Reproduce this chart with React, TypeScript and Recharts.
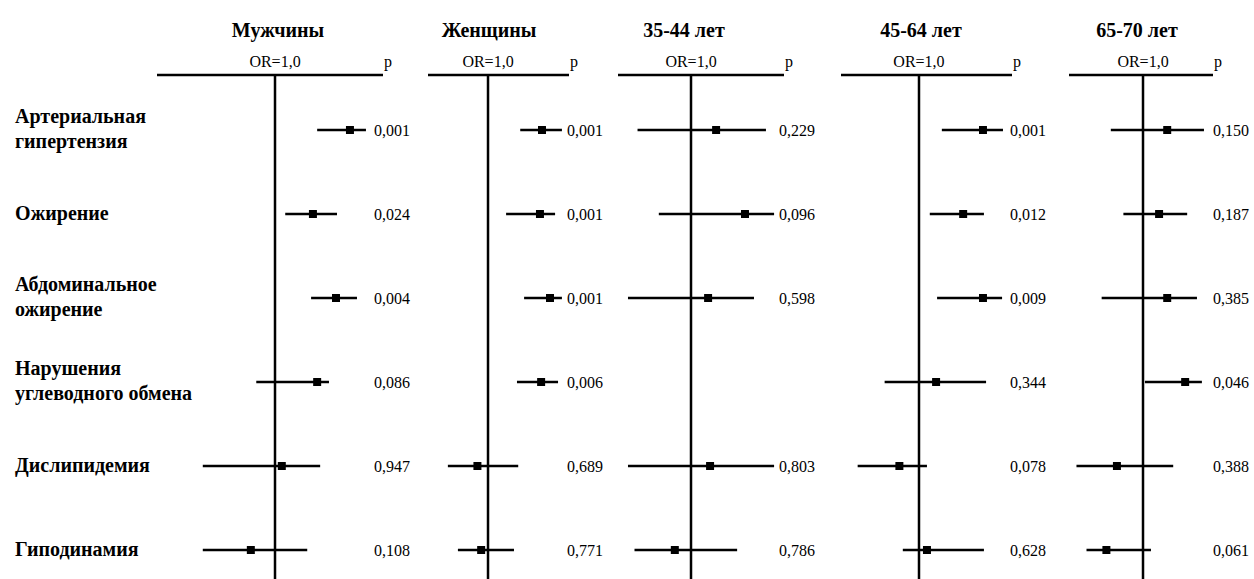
import React from 'react';
import { ScatterChart, Scatter, XAxis, YAxis, ZAxis, ErrorBar, ReferenceLine } from 'recharts';

// Risk factors (rows), top to bottom
const ROW_LABELS = [
  ['Артериальная', 'гипертензия'],
  ['Ожирение'],
  ['Абдоминальное', 'ожирение'],
  ['Нарушения', 'углеводного обмена'],
  ['Дислипидемия'],
  ['Гиподинамия'],
];

const GROUPS = ['Мужчины', 'Женщины', '35-44 лет', '45-64 лет', '65-70 лет'];

// odds ratios with 95% CI (log scale)
const menOR = [3.16, 1.79, 2.55, 1.91, 1.11, 0.69];
const menLow = [1.91, 1.17, 1.74, 0.75, 0.33, 0.33];
const menHigh = [4.04, 2.59, 3.52, 2.29, 2.0, 1.64];
const menP = ['0,001', '0,024', '0,004', '0,086', '0,947', '0,108'];

const womenOR = [2.29, 2.22, 2.59, 2.26, 0.85, 0.9];
const womenLow = [1.64, 1.32, 1.74, 1.56, 0.54, 0.63];
const womenHigh = [3.11, 2.8, 3.11, 2.93, 1.59, 1.49];
const womenP = ['0,001', '0,001', '0,001', '0,006', '0,689', '0,771'];

const age35OR = [1.47, 2.29, 1.3, null, 1.34, 0.78];
const age35Low = [0.44, 0.61, 0.38, null, 0.38, 0.42];
const age35High = [3.16, 3.58, 2.63, null, 3.58, 2.03];
const age35P = ['0,229', '0,096', '0,598', '', '0,803', '0,786'];

const age45OR = [2.67, 1.97, 2.67, 1.3, 0.74, 1.13];
const age45Low = [1.42, 1.18, 1.32, 0.59, 0.39, 0.78];
const age45High = [3.63, 2.71, 3.58, 2.8, 1.13, 2.71];
const age45P = ['0,001', '0,012', '0,009', '0,344', '0,078', '0,628'];

const age65OR = [1.45, 1.28, 1.45, 1.91, 0.67, 0.57];
const age65Low = [0.61, 0.74, 0.53, 1.03, 0.36, 0.42];
const age65High = [2.55, 1.97, 2.29, 2.47, 1.59, 1.13];
const age65P = ['0,150', '0,187', '0,385', '0,046', '0,388', '0,061'];

const SERIES = [
  { or: menOR, low: menLow, high: menHigh, p: menP },
  { or: womenOR, low: womenLow, high: womenHigh, p: womenP },
  { or: age35OR, low: age35Low, high: age35High, p: age35P },
  { or: age45OR, low: age45Low, high: age45High, p: age45P },
  { or: age65OR, low: age65Low, high: age65High, p: age65P },
];

// layout of each panel on the page
const PANELS = [
  { left: 157, right: 383, domain: [0.1634, 5.248], titleX: 278, pShift: -9 },
  { left: 428, right: 569, domain: [0.398, 3.467], titleX: 489, pShift: -2 },
  { left: 618, right: 784, domain: [0.326, 4.169], titleX: 684, pShift: -5 },
  { left: 841, right: 1012, domain: [0.302, 4.169], titleX: 921, pShift: -2 },
  { left: 1069, right: 1213, domain: [0.321, 2.929], titleX: 1137, pShift: 0 },
];

const FONT = "'Liberation Serif', 'Times New Roman', serif";
const HEIGHT = 579;
const TOP = 47;
const AXIS_H = 28;
const P_WIDTH = 40;
const LABEL_W = 157;
const ROW_TICKS = ROW_LABELS.map((_, i) => i);
const ROW_DOMAIN = [-0.655, 5.345];

function RowLabelTick(props: any) {
  const { y, payload } = props;
  const lines = ROW_LABELS[payload.value] || [];
  const first = lines.length > 1 ? y - 7 : y + 6;
  return (
    <text fontSize={20} fontWeight="bold" fill="#000" fontFamily={FONT}>
      {lines.map((l, k) => (
        <tspan key={k} x={15} y={first + k * 25}>
          {l}
        </tspan>
      ))}
    </text>
  );
}

function Panel({ idx }: { idx: number }) {
  const cfg = PANELS[idx];
  const s = SERIES[idx];
  const withLabels = idx === 0;
  const data = s.or
    .map((v, i) => ({
      row: i,
      or: v,
      err: v == null ? null : [v - (s.low[i] as number), (s.high[i] as number) - v],
    }))
    .filter((d) => d.or != null);
  const plotW = cfg.right - cfg.left;
  const width = plotW + P_WIDTH + (withLabels ? LABEL_W : 0);

  return (
    <div style={{ position: 'absolute', left: withLabels ? 0 : cfg.left, top: 0 }}>
      <ScatterChart width={width} height={HEIGHT} margin={{ top: TOP, right: 0, bottom: 0, left: 0 }}>
        <XAxis
          type="number"
          dataKey="or"
          scale="log"
          domain={cfg.domain}
          allowDataOverflow
          orientation="top"
          height={AXIS_H}
          tick={false}
          tickLine={false}
          axisLine={{ stroke: '#000', strokeWidth: 2.5 }}
          label={{ value: 'p', position: 'right', offset: 1, fontSize: 16, fill: '#000', fontFamily: FONT }}
        />
        <YAxis
          type="number"
          dataKey="row"
          domain={ROW_DOMAIN}
          allowDataOverflow
          reversed
          ticks={ROW_TICKS}
          interval={0}
          hide={!withLabels}
          width={withLabels ? LABEL_W : 0}
          axisLine={false}
          tickLine={false}
          tick={withLabels ? <RowLabelTick /> : false}
        />
        <YAxis
          yAxisId="p"
          orientation="right"
          type="number"
          domain={ROW_DOMAIN}
          allowDataOverflow
          reversed
          ticks={ROW_TICKS}
          interval={0}
          width={P_WIDTH}
          axisLine={false}
          tickLine={false}
          tickSize={0}
          tickMargin={cfg.pShift}
          tickFormatter={(i: number) => s.p[i] || ''}
          tick={{ fill: '#000', fontSize: 16, fontFamily: FONT, textAnchor: 'start' }}
        />
        <ZAxis range={[72, 72]} />
        <ReferenceLine
          x={1}
          stroke="#000"
          strokeWidth={2.5}
          label={{ value: 'OR=1,0', position: 'top', offset: 8, fontSize: 16, fill: '#000', fontFamily: FONT }}
        />
        <Scatter data={data} fill="#000" shape="square" isAnimationActive={false}>
          <ErrorBar dataKey="err" direction="x" width={0} stroke="#000" strokeWidth={2.5} />
        </Scatter>
      </ScatterChart>
    </div>
  );
}

export default function App() {
  return (
    <div
      style={{
        position: 'absolute',
        left: 0,
        top: 0,
        width: 1254,
        height: HEIGHT,
        overflow: 'hidden',
        background: '#fff',
        fontFamily: FONT,
      }}
    >
      {PANELS.map((_, i) => (
        <Panel key={i} idx={i} />
      ))}
      <svg width={1254} height={60} style={{ position: 'absolute', left: 0, top: 0 }}>
        {GROUPS.map((g, i) => (
          <text
            key={g}
            x={PANELS[i].titleX}
            y={37}
            textAnchor="middle"
            fontSize={20}
            fontWeight="bold"
            fill="#000"
            fontFamily={FONT}
          >
            {g}
          </text>
        ))}
      </svg>
    </div>
  );
}
